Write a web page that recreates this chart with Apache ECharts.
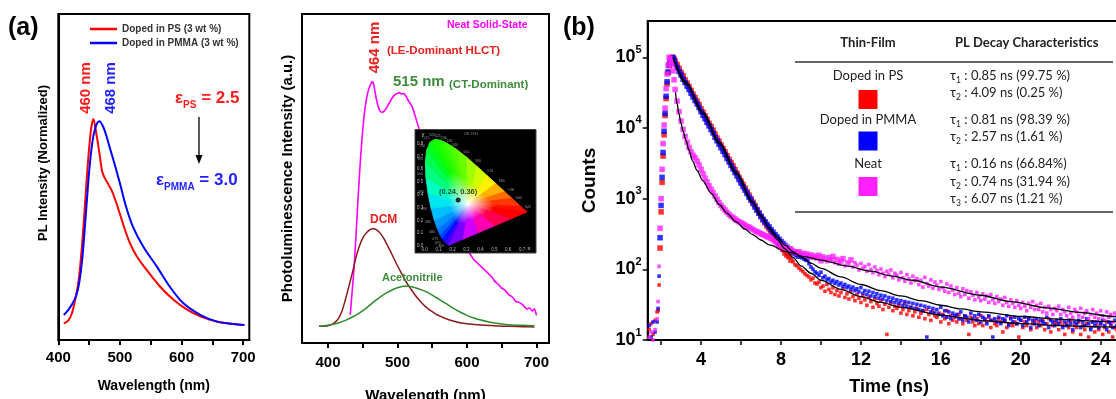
<!DOCTYPE html>
<html><head><meta charset="utf-8">
<script src="https://cdn.jsdelivr.net/npm/echarts@6/dist/echarts.min.js"></script>
<style>html,body{margin:0;padding:0;background:#fff}#c{width:1116px;height:399px}</style>
</head><body><div id="c"></div>
<script>
// ---------- Panel (a) left: normalized PL in polymer hosts ----------
const psWl = [409, 416, 422, 428, 433, 438, 443, 448, 453, 457, 462, 467, 471, 475, 480, 486, 493, 500, 508, 516, 527, 543, 565, 587, 609, 631, 658, 685, 702];
const psInt = [0.075, 0.088, 0.12, 0.19, 0.27, 0.41, 0.6, 0.8, 0.95, 1.0, 0.93, 0.84, 0.765, 0.735, 0.71, 0.68, 0.63, 0.57, 0.5, 0.44, 0.38, 0.318, 0.242, 0.182, 0.137, 0.106, 0.083, 0.072, 0.068];
const pmmaWl = [409, 416, 423, 429, 434, 439, 445, 450, 455, 460, 464, 467, 471, 475, 479, 483, 491, 500, 510, 521, 538, 560, 581, 603, 631, 658, 685, 702];
const pmmaInt = [0.113, 0.135, 0.165, 0.2, 0.26, 0.37, 0.58, 0.76, 0.89, 0.96, 0.985, 0.99, 0.975, 0.95, 0.915, 0.875, 0.8, 0.709, 0.603, 0.513, 0.422, 0.332, 0.241, 0.166, 0.113, 0.083, 0.072, 0.068];
const aTicks = [400, 450, 500, 550, 600, 650, 700];
const aLabels = [400, 500, 600, 700];

// ---------- Panel (a) right: PL in solvents / neat film ----------
const neatWl = [432, 435, 438, 441, 444, 447, 450, 453, 456, 459, 462, 464, 466, 468, 471, 474, 477, 480, 484, 488, 492, 496, 500, 503, 506, 509, 512, 515, 518, 521, 525, 530, 535, 540, 545, 550, 555, 560, 565, 570, 575, 580, 585, 590, 595, 600, 605, 610, 615, 620, 625, 630, 635, 640, 645, 650, 655, 660, 665, 670, 675, 680, 686, 690, 694, 697, 700];
const neatInt = [8.5, 16, 24, 35, 46, 56, 64, 70, 74, 76.5, 78, 78.5, 77.5, 75, 72, 70, 69.3, 69.5, 70.5, 72, 73.5, 74.5, 75, 75.2, 74.8, 74.9, 74.2, 73, 72, 71, 68.5, 65, 62, 58.5, 55, 51, 47.5, 44, 41, 38, 35.5, 33.5, 31.5, 30, 29, 28, 26.5, 25, 24, 23, 22, 21, 20, 18.5, 17.6, 16.5, 15.8, 14.5, 13.9, 12.5, 12.2, 11.5, 10.2, 10.5, 9.6, 10.3, 8.3];
const dcmWl = [387, 390, 395, 400, 405, 410, 415, 420, 425, 430, 435, 440, 445, 450, 455, 460, 465, 470, 475, 480, 485, 490, 495, 500, 505, 510, 515, 520, 525, 530, 535, 540, 545, 550, 555, 560, 570, 580, 590, 600, 620, 640, 660, 680, 697];
const dcmInt = [5, 5, 5.1, 5.2, 5.5, 6.2, 7.3, 9.5, 13, 17, 21, 25.5, 29, 31.5, 33, 34, 34.3, 34, 33, 31.5, 29.5, 27.5, 25.3, 23.2, 21.2, 19.3, 17.5, 16, 14.5, 13.2, 12, 11, 10.1, 9.4, 8.7, 8.2, 7.3, 6.6, 6.1, 5.8, 5.4, 5.2, 5, 4.9, 4.8];
const acnWl = [387, 395, 405, 415, 425, 435, 445, 455, 465, 475, 485, 495, 505, 512, 520, 530, 540, 550, 560, 570, 580, 590, 600, 610, 620, 630, 640, 650, 660, 680, 697];
const acnInt = [5, 5.2, 5.5, 6, 6.8, 7.8, 9, 10.5, 12.2, 13.8, 15.1, 16.2, 16.9, 17.1, 16.9, 16.3, 15.5, 14.4, 13.1, 11.8, 10.5, 9.3, 8.3, 7.5, 6.9, 6.4, 6.0, 5.7, 5.5, 5.3, 5.2];

// ---------- CIE 1931 inset ----------
const cieWl = [380, 460, 470, 475, 480, 485, 490, 495, 500, 505, 510, 515, 520, 525, 530, 535, 540, 550, 560, 570, 580, 590, 600, 620, 700, 0, 0, 0, 0];
const cieX = [0.1741, 0.1440, 0.1241, 0.1096, 0.0913, 0.0687, 0.0454, 0.0235, 0.0082, 0.0039, 0.0139, 0.0389, 0.0743, 0.1142, 0.1547, 0.1929, 0.2296, 0.3016, 0.3731, 0.4441, 0.5125, 0.5752, 0.6270, 0.6915, 0.7347, 0.62, 0.50, 0.38, 0.27];
const cieY = [0.0050, 0.0297, 0.0578, 0.0868, 0.1327, 0.2007, 0.2950, 0.4127, 0.5384, 0.6548, 0.7502, 0.8120, 0.8338, 0.8262, 0.8059, 0.7816, 0.7543, 0.6923, 0.6245, 0.5547, 0.4866, 0.4242, 0.3725, 0.3083, 0.2653, 0.212, 0.156, 0.101, 0.050];
const cieColors = ['#3c00ff', '#0010ff', '#0040ff', '#0070ff', '#0098ff', '#00c0ff', '#00e6f0', '#00ffc0', '#00ff80', '#00ff50', '#00ff20', '#10ff00', '#20ff00', '#30ff00', '#40ff00', '#55ff00', '#6aff00', '#a0ff00', '#d0ff00', '#fff200', '#ffb000', '#ff7000', '#ff3800', '#ff1000', '#ff0000', '#ff0050', '#ff00b0', '#d000ff', '#7800ff'];
const cieWhite = [0.3127, 0.3290];
const cieMarkX = [0.24];
const cieMarkY = [0.36];
const cieXTicks = [0, 0.1, 0.2, 0.3, 0.4, 0.5, 0.6, 0.7];
const cieYTicks = [0, 0.1, 0.2, 0.3, 0.4, 0.5, 0.6, 0.7, 0.8];

// ---------- Panel (b): TRPL decay (shared TCSPC channels, ns) ----------
const decayTime = [1.4, 1.5, 1.6, 1.7, 1.8, 1.85, 1.9, 1.95, 2.0, 2.05, 2.1, 2.15, 2.2, 2.25, 2.3, 2.35, 2.4, 2.45, 2.5, 2.55, 2.6, 2.65, 2.7,
 2.8, 2.9, 3.0, 3.1, 3.2, 3.3, 3.4, 3.5, 3.6, 3.7,
 3.8, 3.9, 4.0, 4.1, 4.2, 4.3, 4.4, 4.5, 4.6, 4.7,
 4.8, 4.9, 5.0, 5.1, 5.2, 5.3, 5.4, 5.5, 5.6, 5.7,
 5.8, 5.9, 6.0, 6.1, 6.2, 6.3, 6.4, 6.5, 6.6, 6.7,
 6.8, 6.9, 7.0, 7.1, 7.2, 7.3, 7.4, 7.5, 7.6, 7.7,
 7.8, 7.9, 8.0, 8.1, 8.2, 8.3, 8.4, 8.5, 8.6, 8.7,
 8.8, 8.9, 9.0, 9.1, 9.2, 9.3, 9.4, 9.5, 9.6, 9.7,
 9.8, 9.9, 10.0, 10.1, 10.2, 10.3, 10.4, 10.5, 10.6, 10.7,
 10.8, 10.9, 11.0, 11.1, 11.2, 11.3, 11.4, 11.5, 11.6, 11.7,
 11.8, 11.9, 12.0, 12.1, 12.2, 12.3, 12.4, 12.5, 12.6, 12.7,
 12.8, 12.9, 13.0, 13.1, 13.2, 13.3, 13.4, 13.5, 13.6, 13.7,
 13.8, 13.9, 14.0, 14.1, 14.2, 14.3, 14.4, 14.5, 14.6, 14.7,
 14.8, 14.9, 15.0, 15.1, 15.2, 15.3, 15.4, 15.5, 15.6, 15.7,
 15.8, 15.9, 16.0, 16.1, 16.2, 16.3, 16.4, 16.5, 16.6, 16.7,
 16.8, 16.9, 17.0, 17.1, 17.2, 17.3, 17.4, 17.5, 17.6, 17.7,
 17.8, 17.9, 18.0, 18.1, 18.2, 18.3, 18.4, 18.5, 18.6, 18.7,
 18.8, 18.9, 19.0, 19.1, 19.2, 19.3, 19.4, 19.5, 19.6, 19.7,
 19.8, 19.9, 20.0, 20.1, 20.2, 20.3, 20.4, 20.5, 20.6, 20.7,
 20.8, 20.9, 21.0, 21.1, 21.2, 21.3, 21.4, 21.5, 21.6, 21.7,
 21.8, 21.9, 22.0, 22.1, 22.2, 22.3, 22.4, 22.5, 22.6, 22.7,
 22.8, 22.9, 23.0, 23.1, 23.2, 23.3, 23.4, 23.5, 23.6, 23.7,
 23.8, 23.9, 24.0, 24.1, 24.2, 24.3, 24.4, 24.5, 24.6, 24.7,
 24.8, 24.9, 25.0];
const psCounts = [14, 17, 12, 19, 25, 26, 60, 200, 650, 1700, 4000, 8000, 15000, 26000, 42000, 60000, 76000, 87000, 95000, 99000, 100000, 94000, 89000,
 79000, 70000, 61000, 55000, 48000, 43000, 38500, 34000, 30000, 27000,
 24000, 21400, 18600, 16700, 14800, 13200, 11600, 10500, 9300, 8200,
 7200, 6500, 5750, 5100, 4600, 4050, 3600, 3250, 2900, 2570,
 2290, 2000, 1780, 1590, 1410, 1250, 1120, 1000, 890, 800,
 700, 630, 560, 500, 455, 410, 375, 340, 300, 270,
 250, 228, 205, 190, 170, 158, 150, 135, 128, 116,
 112, 104, 98, 93, 86, 82, 78, 71, 75, 64,
 62, 66, 55, 58, 49, 61, 52, 47, 55, 44,
 50, 42, 47, 53, 40, 45, 38, 48, 41, 36,
 44, 39, 34, 42, 37, 31, 40, 35, 29, 38,
 33, 30, 36, 27, 32, 12, 29, 34, 26, 30,
 28, 31, 24, 27, 33, 23, 26, 29, 22, 25,
 28, 21, 24, 26, 20, 27, 23, 19, 25, 22,
 21, 24, 18, 23, 20, 26, 17, 22, 19, 21,
 18, 23, 20, 17, 22, 19, 12, 21, 18, 16,
 20, 17, 22, 16, 19, 18, 21, 15, 19, 17,
 16, 20, 18, 13, 19, 15, 17, 21, 16, 18,
 17, 11, 19, 15, 18, 16, 20, 14, 17, 19,
 15, 18, 16, 19, 14, 17, 20, 13, 16, 18,
 17, 14, 18, 16, 12, 17, 15, 19, 13, 16,
 15, 18, 12, 16, 14, 17, 11, 15, 18, 13,
 16, 14, 17, 12, 15, 18, 13, 16, 11, 15,
 14, 17, 13];
const pmmaCounts = [16, 11, 18, 13, 18, 28, 80, 280, 800, 2000, 4500, 9000, 16000, 28000, 45000, 62000, 78000, 88000, 95000, 99000, 97000, 90000, 82000,
 72000, 63000, 56000, 49000, 44000, 39000, 35000, 31000, 27500, 24500,
 21900, 19500, 17000, 15100, 13500, 12000, 10700, 9500, 8500, 7400,
 6600, 5900, 5250, 4680, 4200, 3720, 3310, 2950, 2630, 2340,
 2090, 1860, 1660, 1480, 1320, 1180, 1050, 950, 850, 760,
 690, 620, 560, 510, 470, 430, 398, 363, 335, 310,
 288, 266, 248, 232, 218, 205, 194, 184, 175, 167,
 160, 153, 158, 150, 143, 138, 120, 108, 100, 92,
 88, 82, 91, 76, 80, 71, 74, 66, 70, 63,
 67, 60, 64, 57, 61, 55, 58, 52, 56, 50,
 53, 48, 55, 46, 50, 44, 49, 42, 47, 41,
 45, 39, 43, 38, 42, 36, 40, 35, 39, 34,
 37, 33, 36, 31, 35, 30, 34, 29, 33, 28,
 32, 27, 31, 26, 30, 11, 29, 25, 28, 24,
 27, 23, 29, 22, 26, 21, 25, 20, 24, 22,
 23, 20, 25, 19, 22, 21, 18, 24, 20, 22,
 19, 23, 18, 21, 20, 17, 22, 19, 11, 20,
 18, 21, 17, 20, 19, 22, 16, 20, 18, 21,
 17, 20, 19, 16, 21, 18, 20, 15, 19, 17,
 20, 16, 19, 18, 17, 21, 15, 19, 18, 16,
 19, 17, 20, 15, 18, 16, 19, 17, 14, 18,
 17, 19, 15, 18, 16, 20, 17, 14, 18, 16,
 18, 15, 17, 19, 16, 14, 18, 17, 15, 19,
 16, 18, 15];
const neatCounts = [11, 13, 10, 14, 20, 35, 110, 380, 1000, 2600, 6000, 11000, 19000, 36000, 58000, 78000, 100000, 96000, 88000, 78000, 64000, 48000, 35000,
 24000, 17000, 12500, 9500, 7600, 6300, 5300, 4600, 4100, 3800,
 3400, 3000, 2600, 2250, 1950, 1720, 1520, 1360, 1220, 1090,
 980, 880, 800, 740, 690, 640, 600, 565, 540, 515,
 490, 470, 455, 440, 420, 405, 395, 380, 365, 350,
 340, 330, 318, 310, 300, 290, 282, 275, 262, 250,
 232, 215, 222, 205, 212, 196, 188, 194, 180, 176,
 170, 178, 162, 168, 158, 165, 152, 160, 148, 155,
 145, 158, 132, 150, 139, 128, 146, 135, 152, 124,
 138, 118, 131, 142, 112, 127, 120, 136, 108, 124,
 115, 98, 121, 104, 110, 94, 117, 100, 89, 108,
 96, 84, 101, 88, 79, 94, 85, 98, 76, 88,
 82, 71, 90, 76, 68, 84, 73, 64, 80, 69,
 74, 61, 70, 56, 77, 63, 58, 71, 54, 66,
 60, 52, 67, 55, 49, 62, 47, 58, 51, 44,
 55, 46, 41, 53, 44, 50, 39, 48, 43, 37,
 47, 40, 36, 45, 38, 42, 34, 44, 37, 33,
 41, 35, 38, 31, 40, 34, 30, 37, 33, 29,
 36, 31, 28, 34, 30, 26, 33, 29, 35, 27,
 31, 27, 33, 25, 29, 24, 30, 27, 23, 28,
 26, 30, 23, 27, 25, 22, 29, 24, 21, 27,
 25, 22, 28, 21, 24, 26, 20, 23, 27, 21,
 24, 20, 26, 22, 19, 25, 21, 23, 18, 24,
 22, 20, 25];
// multi-exponential fit curves
const psFitT = [2.6, 3.25, 4.08, 4.92, 5.75, 6.58, 7.0, 7.42, 7.8, 8.2, 8.6, 9.0, 9.5, 10, 11, 12, 13, 14, 16, 18, 20, 22, 24, 25.5];
const psFitC = [100000, 45000, 17000, 6300, 2400, 910, 580, 375, 265, 195, 148, 112, 88, 70, 52, 41, 34, 29, 22.5, 19, 17, 16, 15.3, 15];
const pmmaFitT = [2.6, 3.25, 4.08, 4.92, 5.75, 6.58, 7.0, 7.42, 7.8, 8.2, 8.6, 9.0, 9.5, 10, 11, 12, 13, 14, 15, 16, 17, 18, 20, 22, 24, 25.5];
const pmmaFitC = [97000, 42000, 16000, 5900, 2250, 870, 560, 390, 290, 220, 178, 150, 122, 103, 78, 61, 50, 42, 36, 31, 27.5, 25, 21.5, 19.6, 18.4, 17.8];
const neatFitT = [2.72, 2.8, 2.9, 3.0, 3.1, 3.25, 3.4, 3.58, 3.8, 4.08, 4.5, 4.92, 5.3, 5.75, 6.2, 6.58, 7.0, 7.42, 8.25, 9.25, 10, 11.28, 12.5, 13.5, 14.6, 16, 17.95, 19.5, 21.3, 23, 24.6, 25.5];
const neatFitC = [32000, 22000, 15500, 11500, 9000, 6600, 4800, 3400, 2500, 1800, 1200, 820, 620, 470, 370, 310, 260, 222, 178, 150, 135, 112, 94, 81, 70, 56, 43, 35, 28.5, 24.5, 21.5, 20];
const bTimeTicks = [2, 4, 6, 8, 10, 12, 14, 16, 18, 20, 22, 24];
const bTimeLabels = [4, 8, 12, 16, 20, 24];
const bDecades = [10, 100, 1000, 10000, 100000];
const bMinor = [20, 30, 40, 50, 60, 70, 80, 90, 200, 300, 400, 500, 600, 700, 800, 900, 2000, 3000, 4000, 5000, 6000, 7000, 8000, 9000, 20000, 30000, 40000, 50000, 60000, 70000, 80000, 90000, 200000, 300000];

// table of decay characteristics
const tableRows = [
  {film: 'Doped in PS', color: '#ff0000', taus: [['1', ' : 0.85 ns (99.75 %)'], ['2', ' : 4.09 ns (0.25 %)']]},
  {film: 'Doped in PMMA', color: '#0000ff', taus: [['1', ' : 0.81 ns (98.39 %)'], ['2', ' : 2.57 ns (1.61 %)']]},
  {film: 'Neat', color: '#ff22ff', taus: [['1', ' : 0.16 ns (66.84%)'], ['2', ' : 0.74 ns (31.94 %)'], ['3', ' : 6.07 ns (1.21 %)']]}
];

// ======================================================
const FONT = '"Liberation Sans", Arial, sans-serif';
const TFONT = 'Lato, "Open Sans", sans-serif';
const zip = (a, b) => a.map((v, i) => [v, b[i]]);
const chart = echarts.init(document.getElementById('c'), null, {renderer: 'canvas', width: 1116, height: 399});

const boldBlack = {fontFamily: FONT, fontWeight: 'bold', color: '#000'};
const blackLine = {lineStyle: {color: '#000', width: 2}};
const decaySymbolSize = (v) => (v[1] >= 130 ? 5.5 : 3.6);

function cieRender(params, api) {
  const i = params.dataIndex;
  const n = cieX.length;
  const j = (i + 1) % n;
  const p1 = api.coord([cieX[i], cieY[i]]);
  const p2 = api.coord([cieX[j], cieY[j]]);
  const c = api.coord(cieWhite);
  const m = [(p1[0] + p2[0]) / 2, (p1[1] + p2[1]) / 2];
  const col = cieColors[i];
  const grad = new echarts.graphic.LinearGradient(c[0], c[1], m[0], m[1], [
    {offset: 0, color: '#ffffff'}, {offset: 0.5, color: col}, {offset: 1, color: col}], true);
  const children = [{type: 'polygon', shape: {points: [c, p1, p2]}, style: {fill: grad, stroke: grad, lineWidth: 0.8}}];
  if (cieWl[i] && cieWl[i] > 455 && cieWl[i] < 690) {
    const dx = p1[0] - c[0], dy = p1[1] - c[1], L = Math.sqrt(dx * dx + dy * dy);
    children.push({type: 'text', x: p1[0] + dx / L * 7, y: p1[1] + dy / L * 5,
      style: {text: String(cieWl[i]), fill: '#9a9a9a', fontSize: 3.5, fontFamily: FONT, align: 'center', verticalAlign: 'middle'}});
  }
  return {type: 'group', children: children};
}

function txt(x, y, text, size, color, extra) {
  return Object.assign({type: 'text', x: x, y: y, z: 50,
    style: {text: text, fill: color, fontSize: size, fontWeight: 'bold', fontFamily: FONT, align: 'left', verticalAlign: 'middle'}}, extra || {});
}
function vtxt(x, y, text, size, color) {
  return {type: 'text', x: x, y: y, z: 50, rotation: Math.PI / 2,
    style: {text: text, fill: color, fontSize: size, fontWeight: 'bold', fontFamily: FONT, align: 'center', verticalAlign: 'middle'}};
}

const graphics = [
  txt(8, 28, '(a)', 25, '#000'),
  txt(563, 28, '(b)', 25, '#000'),
  // panel (a) left annotations
  vtxt(86, 88, '460 nm', 15, '#ff1a1a'),
  vtxt(111, 88, '468 nm', 15, '#1f1fff'),
  {type: 'text', x: 175, y: 98, z: 50, style: {text: '{e|ε}{s|PS}{e| = 2.5}', align: 'left', verticalAlign: 'middle',
    rich: {e: {fontSize: 17, fontWeight: 'bold', fill: '#ff1a1a', fontFamily: FONT, lineHeight: 24},
           s: {fontSize: 10, fontWeight: 'bold', fill: '#ff1a1a', fontFamily: FONT, lineHeight: 10, verticalAlign: 'bottom'}}}},
  {type: 'text', x: 156, y: 180, z: 50, style: {text: '{e|ε}{s|PMMA}{e| = 3.0}', align: 'left', verticalAlign: 'middle',
    rich: {e: {fontSize: 17, fontWeight: 'bold', fill: '#1f1fff', fontFamily: FONT, lineHeight: 24},
           s: {fontSize: 10, fontWeight: 'bold', fill: '#1f1fff', fontFamily: FONT, lineHeight: 10, verticalAlign: 'bottom'}}}},
  {type: 'line', z: 50, shape: {x1: 199, y1: 117, x2: 199, y2: 157}, style: {stroke: '#000', lineWidth: 1.3}},
  {type: 'polygon', z: 50, shape: {points: [[195.5, 155], [202.5, 155], [199, 164]]}, style: {fill: '#000'}},
  // panel (a) right annotations
  txt(447, 25, 'Neat Solid-State', 10.5, '#ff00ff'),
  vtxt(375, 47.5, '464 nm', 15, '#e8201e'),
  txt(387, 51, '(LE-Dominant HLCT)', 11.5, '#e8201e'),
  txt(393, 82, '515 nm', 15, '#3c8c3c'),
  txt(449, 85, '(CT-Dominant)', 11.5, '#3c8c3c'),
  txt(370, 220, 'DCM', 12, '#e8201e'),
  txt(382, 278, 'Acetonitrile', 11, '#3c8c3c'),
  // CIE inset small texts
  {type: 'text', x: 423, y: 134, z: 60, style: {text: 'y', fill: '#cccccc', fontSize: 6, fontFamily: FONT, align: 'center', verticalAlign: 'middle'}},
  {type: 'text', x: 529, y: 248, z: 60, style: {text: 'x', fill: '#cccccc', fontSize: 6, fontFamily: FONT, align: 'center', verticalAlign: 'middle'}},
  {type: 'text', x: 471, y: 134, z: 60, style: {text: 'CIE 1931', fill: '#888888', fontSize: 3.5, fontFamily: FONT, align: 'center', verticalAlign: 'middle'}},
  // panel (b) table
  {type: 'text', x: 868, y: 43, z: 50, style: {text: 'Thin-Film', fill: '#222', fontSize: 13, fontWeight: 'bold', fontFamily: TFONT, align: 'center', verticalAlign: 'middle'}},
  {type: 'text', x: 955, y: 43, z: 50, style: {text: 'PL Decay Characteristics', fill: '#222', fontSize: 13, fontWeight: 'bold', fontFamily: TFONT, align: 'left', verticalAlign: 'middle'}},
  {type: 'line', z: 50, shape: {x1: 795, y1: 62, x2: 1113, y2: 62}, style: {stroke: '#333', lineWidth: 1.5}},
  {type: 'line', z: 50, shape: {x1: 795, y1: 212, x2: 1113, y2: 212}, style: {stroke: '#333', lineWidth: 1.5}}
];
const rowY = [76, 120, 164];
const tauY = [[76, 93], [120, 137], [164, 182, 199]];
const sqY = [90, 131.5, 177];
tableRows.forEach((r, k) => {
  graphics.push({type: 'text', x: 868, y: rowY[k], z: 50, style: {text: r.film, fill: '#222', fontSize: 13, fontFamily: TFONT, align: 'center', verticalAlign: 'middle'}});
  graphics.push({type: 'rect', z: 50, shape: {x: 858.5, y: sqY[k], width: 19, height: 19}, style: {fill: r.color}});
  r.taus.forEach((t, q) => {
    graphics.push({type: 'text', x: 950, y: tauY[k][q], z: 50, style: {text: '{t|τ}{s|' + t[0] + '}{t|' + t[1] + '}', align: 'left', verticalAlign: 'middle',
      rich: {t: {fontSize: 13, fill: '#222', fontFamily: TFONT, lineHeight: 18}, s: {fontSize: 8.5, fill: '#222', fontFamily: TFONT, lineHeight: 9, verticalAlign: 'bottom'}}}});
  });
});

const option = {
  animation: false,
  backgroundColor: '#ffffff',
  grid: [
    {left: 58.3, top: 14, width: 191, height: 326, show: true, borderColor: '#000', borderWidth: 2, outerBoundsMode: 'none'},
    {left: 302, top: 14, width: 247, height: 329, show: true, borderColor: '#000', borderWidth: 2, outerBoundsMode: 'none'},
    {left: 647.7, top: 21, width: 483, height: 319, show: true, borderColor: '#000', borderWidth: 2, outerBoundsMode: 'none'},
    {left: 415, top: 129.5, width: 121, height: 123.5, show: false, outerBoundsMode: 'none'}
  ],
  legend: {
    left: 90, top: 23, orient: 'vertical', padding: 0, itemWidth: 27, itemHeight: 2.5, itemGap: 2, selectedMode: false,
    data: [{name: 'Doped in PS (3 wt %)', icon: 'rect'}, {name: 'Doped in PMMA (3 wt %)', icon: 'rect'}],
    textStyle: {fontSize: 10, fontWeight: 'bold', color: '#333', fontFamily: FONT, lineHeight: 12}
  },
  xAxis: [
    {gridIndex: 0, type: 'value', min: 400, max: 710, axisLine: blackLine,
     axisTick: {customValues: aTicks, length: 5, lineStyle: {color: '#000', width: 2}},
     axisLabel: Object.assign({customValues: aLabels, fontSize: 15, margin: 10}, boldBlack), splitLine: {show: false},
     name: 'Wavelength (nm)', nameLocation: 'middle', nameGap: 39, nameTextStyle: Object.assign({fontSize: 14}, boldBlack)},
    {gridIndex: 1, type: 'value', min: 362.6, max: 718, axisLine: blackLine,
     axisTick: {customValues: aTicks, length: 5, lineStyle: {color: '#000', width: 2}},
     axisLabel: Object.assign({customValues: aLabels, fontSize: 15, margin: 12}, boldBlack), splitLine: {show: false},
     name: 'Wavelength (nm)', nameLocation: 'middle', nameGap: 45, nameTextStyle: Object.assign({fontSize: 15}, boldBlack)},
    {gridIndex: 2, type: 'value', min: 1.33, max: 25.5, axisLine: blackLine,
     axisTick: {customValues: bTimeTicks, length: 5, lineStyle: {color: '#000', width: 1.5}},
     axisLabel: Object.assign({customValues: bTimeLabels, fontSize: 18, margin: 11}, boldBlack), splitLine: {show: false},
     name: 'Time (ns)', nameLocation: 'middle', nameGap: 38, nameTextStyle: Object.assign({fontSize: 18}, boldBlack)},
    {gridIndex: 3, type: 'value', min: -0.07, max: 0.8, z: 10, axisLine: {show: false}, axisTick: {show: false}, splitLine: {show: false},
     axisLabel: {customValues: cieXTicks, inside: true, margin: 1, fontSize: 4.5, color: '#bbbbbb', fontFamily: FONT, formatter: v => v.toFixed(1)}}
  ],
  yAxis: [
    {gridIndex: 0, type: 'value', min: 0, max: 1.475, axisLine: {show: true, lineStyle: {color: '#000', width: 2}}, axisTick: {show: false}, axisLabel: {show: false}, splitLine: {show: false},
     name: 'PL Intensity (Normalized)', nameLocation: 'middle', nameGap: 8, nameTextStyle: Object.assign({fontSize: 13, padding: [0, 0, 0, 28]}, boldBlack)},
    {gridIndex: 1, type: 'value', min: 0, max: 98.8, axisLine: {show: true, lineStyle: {color: '#000', width: 2}}, axisTick: {show: false}, axisLabel: {show: false}, splitLine: {show: false},
     name: 'Photoluminescence Intensity (a.u.)', nameLocation: 'middle', nameGap: 7, nameTextStyle: Object.assign({fontSize: 15}, boldBlack)},
    {gridIndex: 2, type: 'log', logBase: 10, min: 10, max: 326000, axisLine: {show: true, lineStyle: {color: '#000', width: 2}},
     axisTick: {customValues: bDecades, length: 5, lineStyle: {color: '#000', width: 1.5}}, splitLine: {show: false},
     axisLabel: {customValues: bDecades, margin: 6, formatter: v => '{b|10}{s|' + Math.round(Math.log10(v)) + '}',
       rich: {b: {fontSize: 18, fontWeight: 'bold', fontFamily: FONT, color: '#000', lineHeight: 26},
              s: {fontSize: 11, fontWeight: 'bold', fontFamily: FONT, color: '#000', lineHeight: 12, verticalAlign: 'top'}}},
     name: 'Counts', nameLocation: 'middle', nameGap: 48, nameTextStyle: Object.assign({fontSize: 19}, boldBlack)},
    {gridIndex: 3, type: 'value', min: -0.055, max: 0.91, z: 10, axisLine: {show: false}, axisTick: {show: false}, splitLine: {show: false},
     axisLabel: {customValues: cieYTicks, inside: true, margin: 2, fontSize: 4.5, color: '#bbbbbb', fontFamily: FONT, formatter: v => v.toFixed(1)}},
    {gridIndex: 2, type: 'log', logBase: 10, min: 10, max: 326000, axisLine: {show: false}, axisLabel: {show: false}, splitLine: {show: false},
     axisTick: {customValues: bMinor, length: 3, lineStyle: {color: '#000', width: 1}}}
  ],
  series: [
    {name: 'Doped in PS (3 wt %)', type: 'line', xAxisIndex: 0, yAxisIndex: 0, data: zip(psWl, psInt), showSymbol: false, smooth: 0.3,
     lineStyle: {color: '#ff0000', width: 2}, itemStyle: {color: '#ff0000'}},
    {name: 'Doped in PMMA (3 wt %)', type: 'line', xAxisIndex: 0, yAxisIndex: 0, data: zip(pmmaWl, pmmaInt), showSymbol: false, smooth: 0.3,
     lineStyle: {color: '#0000ff', width: 2}, itemStyle: {color: '#0000ff'}},
    {name: 'Neat Solid-State', type: 'line', xAxisIndex: 1, yAxisIndex: 1, data: zip(neatWl, neatInt), showSymbol: false, smooth: 0.2,
     lineStyle: {color: '#ff00ff', width: 1.6}, itemStyle: {color: '#ff00ff'}},
    {name: 'DCM', type: 'line', xAxisIndex: 1, yAxisIndex: 1, data: zip(dcmWl, dcmInt), showSymbol: false, smooth: 0.3,
     lineStyle: {color: '#8b1a1a', width: 1.5}, itemStyle: {color: '#8b1a1a'}},
    {name: 'Acetonitrile', type: 'line', xAxisIndex: 1, yAxisIndex: 1, data: zip(acnWl, acnInt), showSymbol: false, smooth: 0.3,
     lineStyle: {color: '#2e8b2e', width: 1.5}, itemStyle: {color: '#2e8b2e'}},
    {name: 'insetBg', type: 'custom', xAxisIndex: 3, yAxisIndex: 3, z: 5, clip: false, data: [[0, 0]],
     renderItem: (params) => { const cs = params.coordSys; return {type: 'rect', shape: {x: cs.x, y: cs.y, width: cs.width, height: cs.height}, style: {fill: '#000', stroke: '#444', lineWidth: 1}}; }},
    {name: 'CIE locus', type: 'custom', xAxisIndex: 3, yAxisIndex: 3, z: 6, clip: false, data: zip(cieX, cieY), renderItem: cieRender},
    {name: 'CIE point', type: 'scatter', xAxisIndex: 3, yAxisIndex: 3, z: 7, data: zip(cieMarkX, cieMarkY), symbol: 'circle', symbolSize: 5,
     itemStyle: {color: '#000'}, label: {show: true, position: 'top', distance: 1, formatter: '(0.24, 0.36)', fontSize: 7.5, fontWeight: 'bold', color: '#111', fontFamily: FONT}},
    {name: 'Doped in PS', type: 'scatter', xAxisIndex: 2, yAxisIndex: 2, data: zip(decayTime, psCounts), symbol: 'rect', symbolSize: decaySymbolSize, itemStyle: {color: '#ff0000'}},
    {name: 'Doped in PMMA', type: 'scatter', xAxisIndex: 2, yAxisIndex: 2, data: zip(decayTime, pmmaCounts), symbol: 'rect', symbolSize: decaySymbolSize, itemStyle: {color: '#0000ff'}},
    {name: 'Neat', type: 'scatter', xAxisIndex: 2, yAxisIndex: 2, data: zip(decayTime, neatCounts), symbol: 'rect', symbolSize: decaySymbolSize, itemStyle: {color: '#ff22ff'}},
    {name: 'PS fit', type: 'line', xAxisIndex: 2, yAxisIndex: 2, data: zip(psFitT, psFitC), showSymbol: false, smooth: 0.3, smoothMonotone: 'x', z: 4,
     lineStyle: {color: '#000', width: 1.3}},
    {name: 'PMMA fit', type: 'line', xAxisIndex: 2, yAxisIndex: 2, data: zip(pmmaFitT, pmmaFitC), showSymbol: false, smooth: 0.3, smoothMonotone: 'x', z: 4,
     lineStyle: {color: '#000', width: 1.3}},
    {name: 'Neat fit', type: 'line', xAxisIndex: 2, yAxisIndex: 2, data: zip(neatFitT, neatFitC), showSymbol: false, smooth: 0.3, smoothMonotone: 'x', z: 4,
     lineStyle: {color: '#000', width: 1.3}}
  ],
  graphic: {elements: graphics}
};
chart.setOption(option);
</script>
</body></html>
